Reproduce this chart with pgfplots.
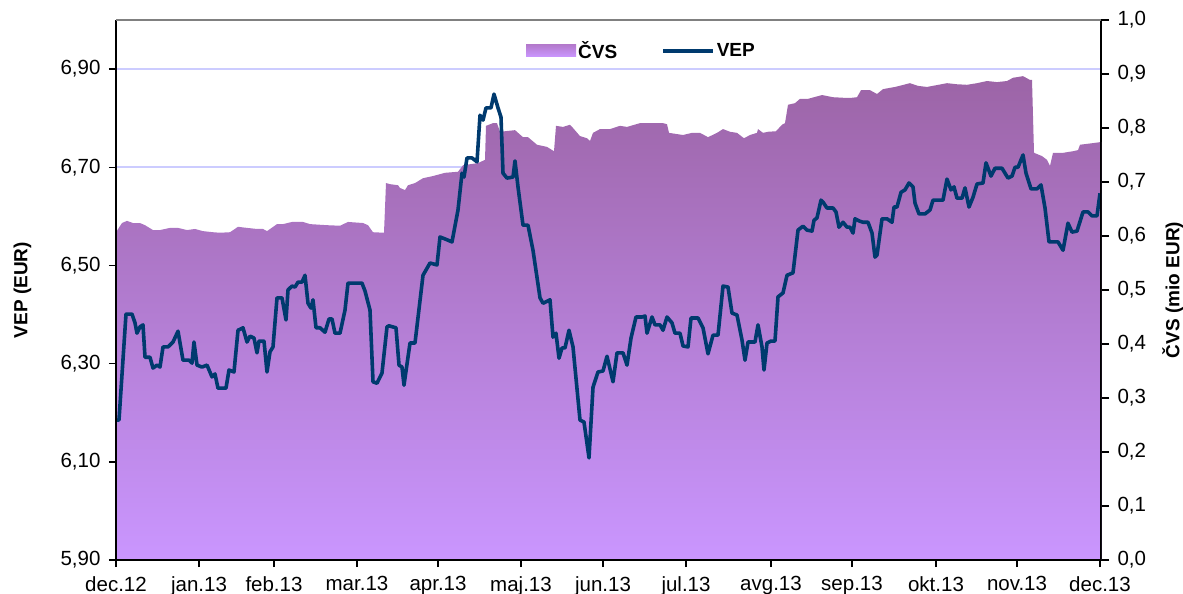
\documentclass[border=0pt]{standalone}
\usepackage{fontspec}
\setmainfont{Liberation Sans}
\usepackage{pgfplots}
\pgfplotsset{compat=1.18}
\definecolor{vepc}{RGB}{0,58,110}
\definecolor{areatop}{RGB}{156,100,166}
\definecolor{areabot}{RGB}{202,150,255}
\definecolor{legtop}{RGB}{180,122,205}
\definecolor{gridc}{RGB}{204,204,255}
\newcommand\tf{\fontsize{20.5bp}{24bp}\selectfont}
\newcommand\lf{\fontsize{19bp}{22bp}\selectfont}
\pgfplotsset{vepline/.style={legend image code/.code={\draw[##1] (0bp,0bp) -- (50bp,0bp);}}}
\begin{document}
\begin{tikzpicture}
\useasboundingbox (0,0) rectangle (1183bp,594bp);
% ---------- right axis: CVS area ----------
\begin{axis}[
  at={(116bp,34bp)}, anchor=south west,
  scale only axis, width=985bp, height=540bp,
  xmin=116, xmax=1101, ymin=0, ymax=1,
  axis x line=none, axis y line*=right,
  axis line style={black, line width=2bp},
  ytick={0,0.1,0.2,0.3,0.4,0.5,0.6,0.7,0.8,0.9,1.0},
  tick label style={font=\tf},
  yticklabel style={xshift=5bp, /pgf/number format/.cd, fixed, fixed zerofill, precision=1, use comma, assume math mode=true},
  tick align=outside, major tick length=8bp,
  tick style={black, line width=1.5bp},
  extra y ticks={0,0.181818,0.363636,0.545455,0.727273,0.909091},
  extra y tick labels={},
  extra y tick style={grid=major, major tick length=0bp},
  major grid style={draw=gridc, line width=1.6bp},
  ylabel={\bfseries\lf ČVS (mio EUR)},
  ylabel style={at={(axis description cs:1.073,0.5)}, anchor=center, rotate=0},
]
\addplot[draw=none, top color=areatop, bottom color=areabot] coordinates {
(116,0.607) (122,0.624) (127,0.628) (133,0.624) (140,0.624) (145,0.620) (153,0.611) (160,0.611)
(170,0.615) (178,0.615) (187,0.611) (195,0.613) (203,0.609) (213,0.607) (220,0.606) (230,0.607)
(238,0.617) (247,0.615) (257,0.613) (263,0.613) (267,0.609) (277,0.622) (283,0.622) (292,0.626)
(303,0.626) (310,0.622) (327,0.620) (340,0.619) (348,0.626) (363,0.624) (368,0.620) (373,0.607)
(384,0.606) (386,0.698) (390,0.696) (398,0.694) (400,0.689) (405,0.685) (408,0.694) (415,0.698)
(423,0.707) (433,0.711) (445,0.717) (458,0.719) (463,0.731) (478,0.735) (485,0.741) (486,0.804)
(493,0.809) (497,0.809) (500,0.793) (515,0.796) (523,0.783) (528,0.783) (537,0.769) (547,0.765)
(554,0.757) (556,0.804) (563,0.802) (570,0.806) (573,0.800) (580,0.785) (587,0.781) (590,0.776)
(593,0.791) (600,0.798) (610,0.798) (620,0.804) (627,0.802) (640,0.809) (663,0.809) (667,0.807)
(669,0.791) (683,0.787) (692,0.791) (700,0.791) (708,0.783) (717,0.791) (723,0.798) (730,0.793)
(737,0.791) (744,0.781) (750,0.787) (757,0.791) (758,0.798) (763,0.791) (768,0.793) (776,0.794)
(782,0.806) (785,0.809) (788,0.843) (795,0.846) (800,0.854) (808,0.854) (822,0.861) (833,0.857)
(843,0.856) (852,0.856) (857,0.857) (861,0.870) (870,0.870) (877,0.863) (883,0.872) (895,0.876)
(910,0.883) (918,0.878) (927,0.876) (947,0.883) (957,0.881) (967,0.880) (977,0.883) (987,0.887)
(997,0.885) (1007,0.887) (1013,0.893) (1023,0.896) (1030,0.889) (1032,0.889) (1034,0.754) (1042,0.748)
(1047,0.741) (1050,0.730) (1053,0.754) (1063,0.754) (1073,0.757) (1078,0.759) (1080,0.769) (1093,0.772)
(1101,0.774)
} \closedcycle;
\end{axis}
% ---------- left axis: VEP line ----------
\begin{axis}[
  at={(116bp,34bp)}, anchor=south west,
  scale only axis, width=985bp, height=540bp,
  xmin=116, xmax=1101, ymin=5.9, ymax=7.0,
  axis y line*=left, axis x line*=bottom,
  axis line style={black, line width=2bp},
  ytick={5.9,6.1,6.3,6.5,6.7,6.9},
  tick label style={font=\tf},
  yticklabel style={xshift=-5bp, /pgf/number format/.cd, fixed, fixed zerofill, precision=2, use comma, assume math mode=true},
  xticklabel style={yshift=-6bp},
  xtick={116,199,274,357,438,521,603,686,771,852,936,1017,1100},
  xticklabels={dec.12,jan.13,feb.13,mar.13,apr.13,maj.13,jun.13,jul.13,avg.13,sep.13,okt.13,nov.13,dec.13},
  tick align=outside, major tick length=7bp,
  tick style={black, line width=1.5bp},
  ylabel={\bfseries\lf VEP (EUR)},
  ylabel style={at={(axis description cs:-0.095,0.5)}, anchor=center},
  legend style={at={(axis description cs:0.5335,0.943)}, anchor=center, draw=none, fill=none,
    font=\bfseries\lf, legend columns=2,
    /tikz/every even column/.append style={column sep=42bp}},
  legend cell align=left,
  vepline,
]
\addlegendimage{legend image code/.code={\shade[draw=none, top color=legtop, bottom color=areabot] (0bp,-6bp) rectangle (50bp,6bp);}}
\addlegendentry{ČVS}
\addplot[color=vepc, line width=3.6bp, line join=round] coordinates {
(117,6.185) (119,6.185) (126,6.401) (132,6.401) (135,6.383) (137,6.362) (140,6.375) (143,6.379)
(145,6.313) (150,6.313) (153,6.291) (157,6.297) (160,6.293) (163,6.334) (168,6.334) (173,6.344)
(178,6.366) (183,6.307) (189,6.307) (192,6.301) (194,6.344) (197,6.297) (202,6.293) (207,6.297)
(212,6.273) (215,6.279) (218,6.250) (226,6.250) (229,6.287) (234,6.283) (238,6.368) (243,6.373)
(247,6.344) (250,6.356) (254,6.352) (257,6.322) (259,6.346) (264,6.346) (267,6.283) (270,6.324)
(273,6.334) (277,6.434) (282,6.434) (286,6.389) (288,6.450) (292,6.458) (295,6.456) (298,6.466)
(302,6.466) (305,6.480) (308,6.423) (311,6.413) (313,6.430) (316,6.373) (320,6.373) (325,6.364)
(329,6.391) (332,6.391) (335,6.362) (340,6.362) (345,6.409) (348,6.464) (362,6.464) (365,6.448)
(370,6.409) (373,6.263) (377,6.260) (382,6.281) (387,6.375) (389,6.377) (396,6.373) (399,6.297)
(402,6.293) (404,6.256) (410,6.342) (415,6.342) (423,6.480) (430,6.505) (437,6.501) (440,6.558)
(445,6.554) (452,6.548) (458,6.613) (462,6.688) (464,6.680) (467,6.719) (472,6.719) (477,6.711)
(480,6.806) (483,6.796) (486,6.821) (491,6.821) (494,6.849) (498,6.821) (501,6.802) (503,6.688)
(507,6.678) (513,6.680) (515,6.713) (518,6.660) (523,6.582) (528,6.582) (533,6.531) (540,6.434)
(543,6.423) (550,6.430) (553,6.354) (556,6.362) (559,6.311) (562,6.332) (565,6.332) (569,6.368)
(573,6.334) (580,6.185) (584,6.181) (589,6.108) (593,6.252) (598,6.283) (603,6.285) (607,6.315)
(613,6.263) (617,6.322) (623,6.322) (627,6.297) (631,6.352) (636,6.395) (642,6.395) (645,6.397)
(647,6.362) (652,6.395) (655,6.379) (660,6.379) (663,6.368) (667,6.395) (672,6.383) (675,6.362)
(680,6.362) (683,6.336) (688,6.334) (691,6.393) (698,6.393) (703,6.373) (708,6.320) (713,6.358)
(718,6.358) (723,6.458) (728,6.456) (732,6.403) (737,6.399) (742,6.348) (745,6.307) (748,6.344)
(755,6.344) (758,6.379) (762,6.334) (764,6.287) (767,6.342) (771,6.346) (775,6.346) (778,6.436)
(783,6.444) (787,6.480) (793,6.485) (798,6.572) (803,6.580) (807,6.572) (812,6.570) (814,6.592)
(817,6.597) (821,6.633) (823,6.629) (827,6.617) (833,6.617) (836,6.609) (839,6.578) (843,6.588)
(847,6.578) (850,6.578) (853,6.566) (855,6.595) (860,6.590) (863,6.588) (868,6.588) (872,6.566)
(875,6.517) (877,6.521) (882,6.595) (887,6.595) (892,6.588) (894,6.619) (897,6.619) (901,6.649)
(905,6.654) (909,6.668) (913,6.660) (915,6.627) (919,6.605) (925,6.605) (930,6.613) (933,6.633)
(943,6.633) (947,6.676) (951,6.654) (954,6.660) (957,6.637) (962,6.637) (965,6.658) (969,6.619)
(973,6.639) (977,6.666) (983,6.668) (986,6.709) (991,6.682) (995,6.698) (1002,6.698) (1008,6.678)
(1012,6.682) (1015,6.700) (1018,6.700) (1023,6.725) (1026,6.688) (1031,6.656) (1037,6.656) (1041,6.664)
(1045,6.617) (1049,6.548) (1058,6.548) (1063,6.531) (1068,6.586) (1072,6.568) (1077,6.570) (1083,6.609)
(1088,6.609) (1092,6.601) (1097,6.601) (1100,6.647)
};
\addlegendentry{VEP}
\draw[black, line width=2bp] (rel axis cs:1,0) -- (rel axis cs:1,1);
\draw[gray, line width=1.5bp] (rel axis cs:0,1) -- (rel axis cs:1,1);
\end{axis}
\end{tikzpicture}
\end{document}
